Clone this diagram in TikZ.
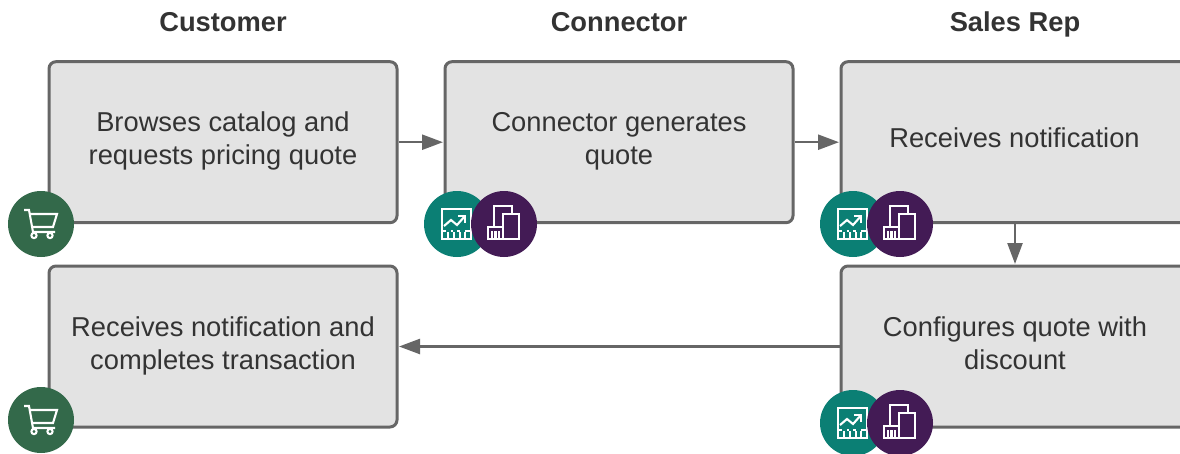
\documentclass[tikz,border=0pt]{standalone}
\usepackage{fontspec}
\setmainfont{Liberation Sans}
\usetikzlibrary{arrows.meta}
\definecolor{boxfill}{HTML}{E3E3E3}
\definecolor{boxline}{HTML}{666666}
\definecolor{ink}{HTML}{333333}
\definecolor{cartgreen}{HTML}{33694A}
\definecolor{chartteal}{HTML}{0B7F74}
\definecolor{plum}{HTML}{431B55}
\tikzset{
  x=1pt,y=-1pt,
  stepbox/.style={draw=boxline,fill=boxfill,line width=3pt,rounded corners=7pt,minimum width=348pt,minimum height=161pt,inner sep=0pt},
  steptext/.style={inner sep=0pt,align=center,text=ink,anchor=base,font=\fontsize{27.3}{33}\selectfont},
  title/.style={text=ink,font=\bfseries\fontsize{27.3}{30}\selectfont,inner sep=0pt,anchor=base},
  link/.style={draw=boxline,line width=2.4pt,shorten >=0.5pt,-{Triangle[length=21pt,width=15pt,fill=boxline]}},
  badge/.style={circle,minimum size=66pt,inner sep=0pt},
  glyph/.style={draw=white,line width=2.1pt,line join=miter},
}
\newcommand{\carticon}[1]{%
  \begin{scope}[shift={(#1)},glyph]
    \draw (-17,-14) -- (-12,-14) -- (-8,8) -- (14,8);
    \draw (-11,-10) -- (16,-10) -- (12,3) -- (-9,3);
    \draw (-7,11.5) circle (2.6);
    \draw (9,11.5) circle (2.6);
  \end{scope}}
\newcommand{\charticon}[1]{%
  \begin{scope}[shift={(#1)},glyph]
    \draw (-15,-15) rectangle (14,15);
    \draw (-13,2) -- (-6,-4) -- (0,1) -- (8,-8);
    \draw (1,-8) -- (8,-8) -- (8,-1);
    \draw (-15,7) -- (-11,7) (-6,7) -- (-4,7) (0,7) -- (3,7) (8,7) -- (14,7);
    \draw (-9,8) -- (-9,15) (-3,8) -- (-3,15) (3,8) -- (3,15) (8,8) -- (8,15);
  \end{scope}}
\newcommand{\buildicon}[1]{%
  \begin{scope}[shift={(#1)},glyph]
    \draw (-10,3) -- (-10,-18) -- (8,-18) -- (8,-10);
    \draw (-1,15) -- (-1,-10) -- (15,-10) -- (15,15) -- cycle;
    \draw (-16,3) rectangle (-1,15);
    \draw (-12,7) -- (-12,15) (-8.5,7) -- (-8.5,15) (-5,7) -- (-5,15);
  \end{scope}}
\begin{document}
\begin{tikzpicture}
  \useasboundingbox (0,0) rectangle (1180,453);
  \clip (0,0) rectangle (1180,453);
  \node[title] (t1) at (223,31) {Customer};
  \node[title] (t2) at (619,31) {Connector};
  \node[title] (t3) at (1015,31) {Sales Rep};
  \node[stepbox] (b1) at (223,142.2) {};
  \node[stepbox] (b2) at (619,142.2) {};
  \node[stepbox] (b3) at (1015,142.2) {};
  \node[stepbox] (b4) at (1015,346.5) {};
  \node[stepbox] (b5) at (223,346.5) {};
  \node[steptext] (l1) at (223,164) {Browses catalog and\\requests pricing quote};
  \node[steptext] (l2) at (619,164) {Connector generates\\quote};
  \node[steptext] (l3) at (1014.5,147) {Receives notification};
  \node[steptext] (l4) at (1015,369) {Configures quote with\\discount};
  \node[steptext] (l5) at (223,369) {Receives notification and\\completes transaction};
  \draw[link] (b1.east) -- (b2.west);
  \draw[link] (b2.east) -- (b3.west);
  \draw[link] (b3.south) -- (b4.north);
  \draw[link] (b4.west) -- (b5.east);
  \node[badge,fill=cartgreen] (c1) at (41,224) {};
  \carticon{41,224}
  \node[badge,fill=cartgreen] (c2) at (41,420) {};
  \carticon{41,420}
  \node[badge,fill=chartteal] (s1) at (457,224) {};
  \charticon{457,224}
  \node[badge,fill=plum] (p1) at (504,224) {};
  \buildicon{504,224}
  \node[badge,fill=chartteal] (s2) at (853,224) {};
  \charticon{853,224}
  \node[badge,fill=plum] (p2) at (900,224) {};
  \buildicon{900,224}
  \node[badge,fill=chartteal] (s3) at (853,423) {};
  \charticon{853,423}
  \node[badge,fill=plum] (p3) at (900,423) {};
  \buildicon{900,423}
\end{tikzpicture}
\end{document}
